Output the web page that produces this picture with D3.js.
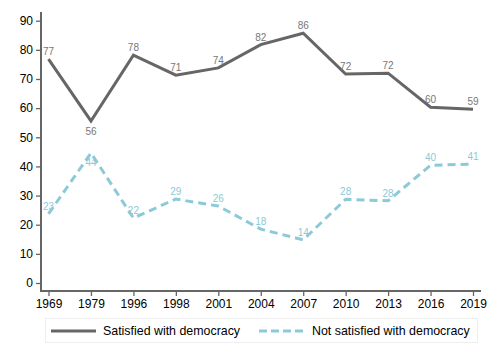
<!DOCTYPE html>
<html>
<head>
<meta charset="utf-8">
<script src="https://cdn.jsdelivr.net/npm/d3@7"></script>
<style>
    body { margin: 0; background: #fff; }
    svg { font-family: "Liberation Sans", Arial, sans-serif; }
</style>
</head>
<body>
<div id="chart"></div>
<script>
// data
const years = ["1969", "1979", "1996", "1998", "2001", "2004", "2007", "2010", "2013", "2016", "2019"];
const satisfied = [76.8, 55.6, 78.2, 71.3, 73.8, 81.8, 85.7, 71.7, 72.0, 60.3, 59.6];
const satisfiedLabels = ["77", "56", "78", "71", "74", "82", "86", "72", "72", "60", "59"];
const notSatisfied = [23.7, 44.6, 22.3, 28.8, 26.4, 18.5, 14.8, 28.7, 28.2, 40.4, 40.8];
const notSatisfiedLabels = ["23", "44", "22", "29", "26", "18", "14", "28", "28", "40", "41"];
const yTicks = [0, 10, 20, 30, 40, 50, 60, 70, 80, 90];
const seriesNames = ["Satisfied with democracy", "Not satisfied with democracy"];

const width = 494, height = 359;

const gray = "#666666", blue = "#8ccad8";

const svg = d3.select("#chart").append("svg")
    .attr("width", width)
    .attr("height", height);

const x = d3.scalePoint()
    .domain(years)
    .range([48.5, 473]);

const y = d3.scaleLinear()
    .domain([0, 90])
    .range([283, 20.7]);

// axes
const xAxis = svg.append("g")
    .attr("transform", "translate(0,291)")
    .call(d3.axisBottom(x).tickSize(5).tickPadding(3));

const yAxis = svg.append("g")
    .attr("transform", "translate(41,0)")
    .call(d3.axisLeft(y).tickValues(yTicks).tickSize(5).tickPadding(3));

[xAxis, yAxis].forEach(ax => {
    ax.select(".domain").remove();
    ax.selectAll(".tick line").attr("stroke", gray).attr("stroke-width", 1.3);
    ax.selectAll(".tick text").attr("fill", "#000").style("font-size", "12px");
});

// axis lines drawn by hand so they meet at the corner
svg.append("line")
    .attr("x1", 41).attr("x2", 41)
    .attr("y1", 12).attr("y2", 292)
    .attr("stroke", gray).attr("stroke-width", 2);
svg.append("line")
    .attr("x1", 40).attr("x2", 481)
    .attr("y1", 291).attr("y2", 291)
    .attr("stroke", gray).attr("stroke-width", 2);

const line = d3.line()
    .x((d, i) => x(years[i]))
    .y(d => y(d));

svg.append("path")
    .datum(satisfied)
    .attr("fill", "none")
    .attr("stroke", gray)
    .attr("stroke-width", 3)
    .attr("d", line);

svg.append("path")
    .datum(notSatisfied)
    .attr("fill", "none")
    .attr("stroke", blue)
    .attr("stroke-width", 3)
    .attr("stroke-dasharray", "8,5")
    .attr("d", line);

// point labels (the 1979 ones sit below the point)
svg.append("g").selectAll("text")
    .data(satisfied)
    .enter().append("text")
    .attr("x", (d, i) => x(years[i]))
    .attr("y", (d, i) => i === 1 ? y(d) + 14 : y(d) - 4)
    .attr("text-anchor", "middle")
    .attr("fill", "#777")
    .style("font-size", "10px")
    .text((d, i) => satisfiedLabels[i]);

svg.append("g").selectAll("text")
    .data(notSatisfied)
    .enter().append("text")
    .attr("x", (d, i) => x(years[i]))
    .attr("y", (d, i) => i === 1 ? y(d) + 13 : y(d) - 4)
    .attr("text-anchor", "middle")
    .attr("fill", blue)
    .style("font-size", "10px")
    .text((d, i) => notSatisfiedLabels[i]);

// legend
const legend = svg.append("g");
legend.append("rect")
    .attr("x", 45.5).attr("y", 318.5)
    .attr("width", 432).attr("height", 24)
    .attr("fill", "#fff")
    .attr("stroke", "#eeeeee");

legend.append("line")
    .attr("x1", 51).attr("x2", 96)
    .attr("y1", 331).attr("y2", 331)
    .attr("stroke", gray).attr("stroke-width", 3);
legend.append("text")
    .attr("x", 103).attr("y", 335)
    .style("font-size", "12.4px")
    .text(seriesNames[0]);

legend.append("line")
    .attr("x1", 259).attr("x2", 304)
    .attr("y1", 331).attr("y2", 331)
    .attr("stroke", blue).attr("stroke-width", 3)
    .attr("stroke-dasharray", "8,4");
legend.append("text")
    .attr("x", 312).attr("y", 335)
    .style("font-size", "12.4px")
    .text(seriesNames[1]);
</script>
</body>
</html>
